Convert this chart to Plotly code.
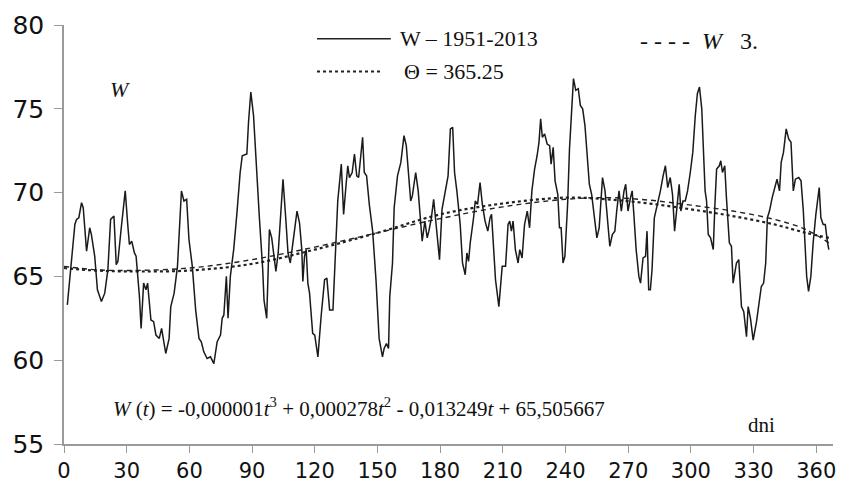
import plotly.graph_objects as go

# Daily W values, 1951-2013
days = [1.6, 5.2, 6, 7.1, 8.4, 9.2, 10.8, 12.3, 13.1, 14.7, 16, 17.9, 19.5, 21, 22.3, 23.9, 25, 25.8, 27.4, 29.3,
        30.5, 31.3, 32.4, 33.7, 34.5, 36.1, 36.9, 38.1, 39.2, 40.0, 41.6, 42.9, 44, 45.6, 46.7, 47.6, 48.7, 50.3,
        51.1, 52.7, 54.3, 56.2, 57.4, 58.7, 59.8, 61.4, 63.0, 64.6, 65.7, 66.9, 68.5, 70.1, 71.7, 73.3, 74.9, 75.7,
        76.5, 77.7, 78.5, 79.6, 81.2, 82.7, 84.3, 85.3, 87.5, 88.3, 89.4, 90.7, 91.9, 93.5, 95.1, 95.7, 97.0, 98.3,
        99.4, 100.2, 101.4, 102.5, 103.6, 104.8, 106.1, 107.2, 108.3, 109.5, 111.5, 112.7, 113.8, 114.3, 115.1,
        115.9, 116.7, 117.5, 118.3, 119.0, 120.0, 121.5, 123.1, 124.7, 125.8, 127.1, 128.7, 130.0, 131.0, 132.7,
        133.8, 135.0, 135.8, 136.6, 137.9, 139.0, 140.1, 141.0, 141.7, 142.9, 143.7, 144.8, 146.1, 147.7, 149.3,
        150.8, 152.4, 153.2, 154.3, 155.3, 155.9, 157.2, 158.0, 159.6, 161.2, 162.7, 163.8, 165.1, 165.9, 166.7,
        168.3, 169.5, 170.6, 171.4, 172.7, 173.8, 174.6, 175.7, 176.9, 177.8, 178.6, 179.7, 180.9, 182.5, 183.8,
        184.9, 186.0, 186.9, 188.0, 189.6, 190.7, 192.0, 192.8, 193.6, 194.4, 196.0, 196.8, 197.9, 199.1, 200.2,
        201.5, 202.8, 203.9, 204.6, 205.4, 206.5, 208.1, 209.1, 209.7, 211.3, 212.5, 213.3, 214.1, 214.9, 216.0,
        217.3, 218.1, 219.2, 220.4, 221.7, 222.8, 223.9, 225.2, 226.4, 227.3, 228.1, 228.9, 230.0, 231.2, 232.4,
        233.1, 234.1, 235.0, 236.3, 237.1, 237.9, 238.8, 239.7, 241.0, 241.9, 242.9, 243.8, 244.9, 246.1, 247.1,
        248.2, 249.3, 250.2, 251.4, 252.5, 253.7, 255.0, 256.1, 257.7, 258.9, 260.1, 261.2, 262.4, 263.6, 264.5,
        265.6, 266.7, 268.0, 268.8, 269.9, 271.1, 271.9, 272.7, 273.8, 275.1, 275.9, 277.1, 278.3, 279.0, 279.8,
        280.6, 281.4, 282.5, 284.1, 285.4, 286.7, 287.8, 288.9, 290.1, 291.2, 292.2, 293.3, 294.4, 295.2, 296.2,
        297.3, 298.4, 299.7, 300.9, 302.1, 303.1, 304.1, 305.2, 306.3, 306.8, 307.5, 308.3, 309.4, 310.7, 311.5,
        312.3, 313.6, 314.3, 315.1, 316.2, 317.0, 318.4, 319.4, 320.2, 321.8, 322.9, 324.2, 325.3, 326.6, 327.4,
        328.5, 329.8, 331.4, 332.6, 333.7, 334.8, 335.8, 336.6, 337.6, 338.9, 340.0, 341.2, 342.4, 343.2, 344.3,
        345.6, 346.8, 347.9, 349.0, 350.0, 351.6, 352.7, 353.8, 354.7, 355.4, 356.3, 357.4, 358.5, 359.8, 361.4,
        362.2, 363.3, 364.3, 365.4, 366.0]
w_daily = [63.3, 68.1, 68.4, 68.5, 69.4, 69.1, 66.5, 67.9, 67.5, 66.2, 64.2, 63.5, 64.0, 65.4, 68.4, 68.6, 65.7, 65.9, 67.9, 70.1,
           68.1, 66.9, 67.1, 66.4, 66.2, 63.8, 61.9, 64.6, 64.2, 64.6, 62.4, 62.3, 61.5, 61.3, 61.9, 61.2, 60.4, 61.3,
           63.2, 64.0, 65.6, 70.1, 69.5, 69.6, 67.2, 65.6, 63.0, 61.3, 61.1, 60.5, 60.1, 60.2, 59.8, 61.1, 61.5, 62.5,
           62.7, 65.0, 62.5, 65.0, 66.6, 68.7, 71.2, 72.2, 72.3, 74.2, 76.0, 74.6, 71.6, 68.5, 65.4, 63.6, 62.5, 67.8,
           67.3, 66.6, 65.3, 66.4, 68.5, 70.8, 68.5, 66.4, 65.8, 67.1, 68.9, 68.2, 66.6, 64.7, 66.2,
           66.6, 64.6, 64.0, 62.7, 61.6, 61.5, 60.2, 62.7, 64.8, 64.9, 63.0, 63.0, 67.0, 69.5, 71.7,
           68.7, 70.5, 71.6, 70.9, 71.2, 72.3, 71.0, 70.9, 71.8, 73.3, 71.2, 71.0, 69.3, 67.7, 64.8,
           61.3, 60.2, 60.7, 61.0, 60.7, 63.8, 65.8, 69.1, 71.0, 71.8, 73.4, 72.8, 71.0, 69.5, 69.8,
           71.2, 70.1, 68.3, 67.1, 68.3, 67.3, 67.7, 68.4, 69.6, 68.3, 67.3, 66.0, 69.0, 70.1, 71.0,
           73.8, 73.9, 71.2, 70.1, 68.1, 65.8, 65.1, 66.4, 65.9, 67.0, 68.5, 69.5, 69.3, 70.6, 69.3,
           68.3, 67.7, 68.5, 68.7, 66.8, 64.8, 63.2, 64.8, 65.6, 65.6, 68.1, 68.3, 67.7, 68.3, 66.6,
           65.8, 66.6, 66.1, 68.1, 68.9, 67.9, 70.1, 71.4, 72.2, 73.0, 74.4, 73.3, 73.5, 72.9, 72.8,
           71.7, 72.7, 70.7, 69.9, 67.9, 67.9, 65.8, 66.2, 69.3, 72.6, 75.3, 76.8, 76.1, 76.2, 75.2,
           75.0, 74.0, 72.4, 70.5, 69.9, 68.7, 67.3, 67.9, 70.9, 70.1, 68.3, 66.8, 67.5, 67.7, 68.9,
           70.1, 68.9, 70.1, 70.5, 68.9, 69.7, 70.1, 68.7, 66.6, 65.0, 64.6, 66.1, 66.2, 67.7, 64.2,
           64.2, 65.4, 68.5, 69.3, 70.1, 71.0, 71.6, 70.3, 70.9, 69.9, 67.7, 69.1, 70.5, 68.9, 69.5,
           69.5, 70.1, 71.2, 72.4, 74.6, 75.9, 76.3, 75.0, 71.6, 70.1, 69.5, 67.5, 67.3, 66.6, 69.3,
           71.4, 71.6, 71.9, 71.2, 71.6, 69.7, 67.0, 66.8, 64.6, 65.8, 66.0, 63.2, 62.9, 61.4, 63.2,
           62.5, 61.2, 62.3, 63.4, 64.4, 64.6, 65.8, 68.5, 68.9, 69.7, 70.3, 70.8, 70.1, 71.8, 72.4,
           73.8, 73.2, 73.0, 70.1, 70.8, 70.9, 70.7, 68.9, 67.1, 65.0, 64.1, 65.0, 67.0, 68.7, 70.3,
           68.5, 68.1, 68.1, 67.0, 66.6]

# Smooth curves
fit_days = [0, 15, 30, 60, 90, 120, 150, 180, 210, 240, 260, 280, 300, 320, 340, 355, 366]
w3_cubic = [65.6, 65.4, 65.35, 65.5, 66.0, 66.75, 67.6, 68.45, 69.15, 69.6, 69.7, 69.55, 69.25, 68.9, 68.4, 67.8, 67.0]
theta_fit = [65.5, 65.35, 65.3, 65.35, 65.75, 66.6, 67.6, 68.7, 69.35, 69.7, 69.6, 69.35, 69.0, 68.6, 68.1, 67.6, 67.3]

x_ticks = [0, 30, 60, 90, 120, 150, 180, 210, 240, 270, 300, 330, 360]
y_ticks = [55, 60, 65, 70, 75, 80]

SERIF = "Liberation Serif, Times New Roman, serif"
TICKF = "DejaVu Sans, Verdana, sans-serif"

fig = go.Figure()
fig.add_trace(go.Scatter(x=fit_days, y=theta_fit, mode="lines", line=dict(color="#222", width=2.2, dash="dot", shape="spline"),
                         showlegend=False, hoverinfo="skip"))
fig.add_trace(go.Scatter(x=fit_days, y=w3_cubic, mode="lines", line=dict(color="#222", width=1.4, dash="5px,4px", shape="spline"),
                         showlegend=False, hoverinfo="skip"))
fig.add_trace(go.Scatter(x=days, y=w_daily, mode="lines", line=dict(color="#1a1a1a", width=1.5),
                         showlegend=False))

fig.update_layout(
    width=847, height=497,
    margin=dict(l=64, r=11, t=19, b=53),
    paper_bgcolor="white", plot_bgcolor="white",
    xaxis=dict(range=[0, 368], tickvals=x_ticks, ticktext=[str(v) for v in x_ticks],
               showgrid=False, zeroline=False, showline=True, linecolor="#9a9a9a", linewidth=1.5,
               ticks="outside", ticklen=7, tickcolor="#9a9a9a", tickwidth=1.2,
               tickfont=dict(family=TICKF, size=21, color="#111")),
    yaxis=dict(range=[55, 80], tickvals=y_ticks, ticktext=[str(v) for v in y_ticks],
               showgrid=False, zeroline=False, showline=True, linecolor="#9a9a9a", linewidth=1.5,
               ticks="outside", ticklen=8, tickcolor="#9a9a9a", tickwidth=1.2, ticklabelstandoff=5,
               tickfont=dict(family=TICKF, size=25, color="#111")),
)

# Legend samples (paper coordinates)
fig.add_shape(type="line", xref="paper", yref="paper", x0=0.329, x1=0.425, y0=0.967, y1=0.967,
              line=dict(color="#222", width=1.5))
fig.add_shape(type="line", xref="paper", yref="paper", x0=0.329, x1=0.413, y0=0.889, y1=0.889,
              line=dict(color="#222", width=2.2, dash="dot"))

ann = [
    dict(text="W – 1951-2013", x=0.434, y=0.967, size=22),
    dict(text="Θ = 365.25", x=0.439, y=0.889, size=22),
    dict(text="- - - -  <i>W</i>   3.", x=0.747, y=0.962, size=24),
    dict(text="<i>W</i>", x=0.057, y=0.845, size=22),
    dict(text="<i>W</i> (<i>t</i>) = -0,000001<i>t</i><sup>3</sup> + 0,000278<i>t</i><sup>2</sup> - 0,013249<i>t</i> + 65,505667",
         x=0.061, y=0.087, size=21),
    dict(text="dni", x=0.887, y=0.045, size=21),
]
for a in ann:
    fig.add_annotation(text=a["text"], xref="paper", yref="paper", x=a["x"], y=a["y"],
                       xanchor="left", yanchor="middle", showarrow=False,
                       font=dict(family=SERIF, size=a["size"], color="#111"))

fig.write_html("out.html")
